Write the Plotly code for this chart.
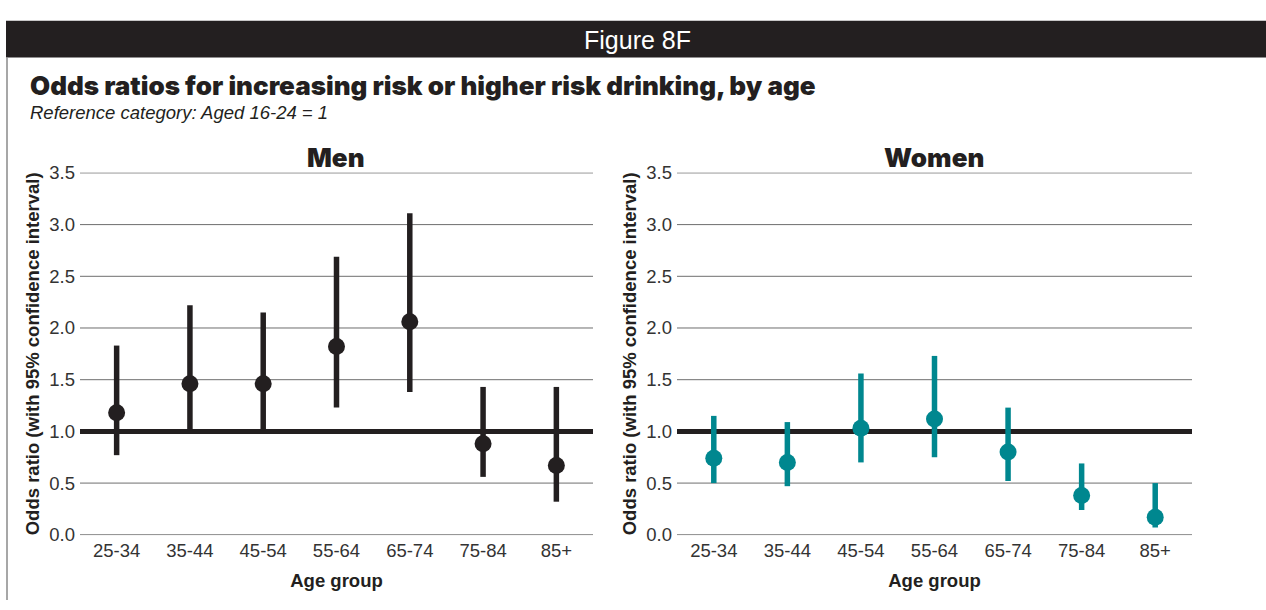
import plotly.graph_objects as go

W, H = 1266, 610

age_groups = ["25-34", "35-44", "45-54", "55-64", "65-74", "75-84", "85+"]
men_or = [1.18, 1.46, 1.46, 1.82, 2.06, 0.88, 0.67]
men_lo = [0.77, 1.01, 1.01, 1.23, 1.38, 0.56, 0.32]
men_hi = [1.83, 2.22, 2.15, 2.69, 3.11, 1.43, 1.43]
women_or = [0.74, 0.70, 1.03, 1.12, 0.80, 0.38, 0.17]
women_lo = [0.50, 0.47, 0.70, 0.75, 0.52, 0.24, 0.07]
women_hi = [1.15, 1.09, 1.56, 1.73, 1.23, 0.69, 0.50]
y_ticks = [0.0, 0.5, 1.0, 1.5, 2.0, 2.5, 3.0, 3.5]
reference_value = 1.0

MEN_C = "#231f20"
WOMEN_C = "#00878f"
FONT = "Liberation Sans, Arial, sans-serif"
HEAVY = "Inter, Roboto, Liberation Sans, sans-serif"


def px(x):
    return x / W


def py(y):
    return (H - y) / H


fig = go.Figure()

for vals, lo, hi, col, xa, ya in [
    (men_or, men_lo, men_hi, MEN_C, "x", "y"),
    (women_or, women_lo, women_hi, WOMEN_C, "x2", "y2"),
]:
    fig.add_trace(go.Scatter(
        x=age_groups, y=vals, mode="markers",
        marker=dict(color=col, size=17),
        error_y=dict(type="data", symmetric=False,
                     array=[h - v for h, v in zip(hi, vals)],
                     arrayminus=[v - l for l, v in zip(lo, vals)],
                     color=col, thickness=5.5, width=0),
        xaxis=xa, yaxis=ya, showlegend=False, cliponaxis=False,
    ))

ydom = [py(543), py(168)]
common_y = dict(range=[-0.004, 3.504], tickvals=y_ticks, tickformat=".1f",
                showgrid=False, zeroline=False, showline=False, ticks="",
                tickfont=dict(family=FONT, size=18.5, color="#333333"),
                ticklabelstandoff=4,
                title=dict(text="<b>Odds ratio (with 95% confidence interval)</b>",
                           font=dict(family=FONT, size=18.5, color="#231f20"),
                           standoff=4),
                domain=ydom, fixedrange=True)
common_x = dict(type="category", range=[-0.5, 6.5], showgrid=False,
                zeroline=False, showline=False, ticks="",
                tickfont=dict(family=FONT, size=18.5, color="#333333"),
                ticklabelstandoff=2,
                title=dict(text="<b>Age group</b>",
                           font=dict(family=FONT, size=18.5, color="#231f20"),
                           standoff=14))

fig.update_layout(
    width=W, height=H, margin=dict(l=0, r=0, t=0, b=0),
    paper_bgcolor="white", plot_bgcolor="white",
    xaxis=dict(common_x, domain=[px(80), px(593)], anchor="y"),
    yaxis=dict(common_y, anchor="x"),
    xaxis2=dict(common_x, domain=[px(677), px(1192)], anchor="y2"),
    yaxis2=dict(common_y, anchor="x2"),
)

shapes = [
    dict(type="rect", xref="paper", yref="paper", x0=px(6), x1=1.0,
         y0=py(49), y1=py(11), fillcolor="#231f20", line=dict(width=0),
         layer="below"),
    dict(type="line", xref="paper", yref="paper", x0=px(7), x1=px(7),
         y0=0, y1=py(49), line=dict(color="#8a8a8a", width=1.5)),
]
for xr, yr in [("x domain", "y"), ("x2 domain", "y2")]:
    for t in y_ticks:
        if t == reference_value:
            continue
        shapes.append(dict(type="line", xref=xr, yref=yr, x0=0, x1=1,
                           y0=t, y1=t, line=dict(color="#6e6e6e", width=1),
                           layer="below"))
    shapes.append(dict(type="line", xref=xr, yref=yr, x0=0, x1=1,
                       y0=reference_value, y1=reference_value,
                       line=dict(color=MEN_C, width=5), layer="below"))
fig.update_layout(shapes=shapes)

annotations = [
    dict(text="Figure 8F", x=px(637), y=py(31), xref="paper", yref="paper",
         showarrow=False, font=dict(family=FONT, size=25, color="white"),
         xanchor="center", yanchor="middle"),
    dict(text="Odds ratios for increasing risk or higher risk drinking, by age",
         x=px(28), y=py(78), xref="paper", yref="paper", showarrow=False,
         font=dict(family=HEAVY, size=26, color="#231f20", weight=900),
         xanchor="left", yanchor="middle"),
    dict(text="<i>Reference category: Aged 16-24 = 1</i>",
         x=px(28), y=py(106), xref="paper", yref="paper", showarrow=False,
         font=dict(family=FONT, size=18.5, color="#231f20"),
         xanchor="left", yanchor="middle"),
    dict(text="Men", x=px(336), y=py(153), xref="paper", yref="paper",
         showarrow=False,
         font=dict(family=HEAVY, size=26, color="#231f20", weight=900),
         xanchor="center", yanchor="middle"),
    dict(text="Women", x=px(934), y=py(153), xref="paper", yref="paper",
         showarrow=False,
         font=dict(family=HEAVY, size=26, color="#231f20", weight=900),
         xanchor="center", yanchor="middle"),
]
fig.update_layout(annotations=annotations)

fig.write_html("out.html")
